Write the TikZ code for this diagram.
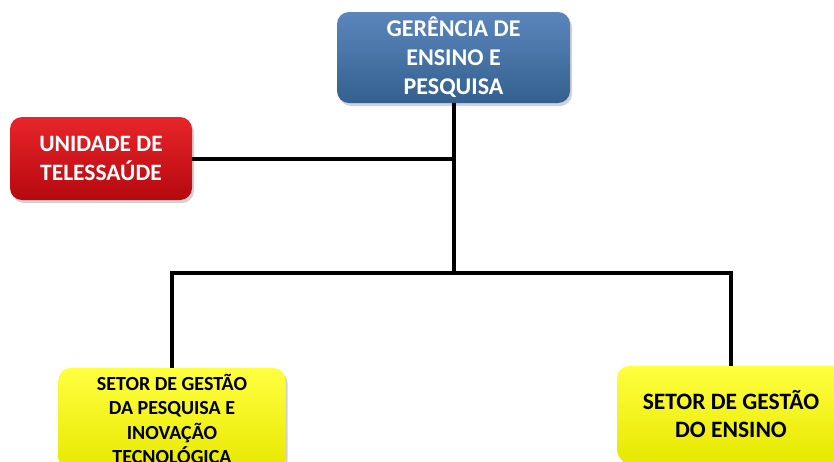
\documentclass[tikz,border=0pt]{standalone}
\usepackage{fontspec}
\setmainfont{Carlito}
\usetikzlibrary{shadows}
\definecolor{bluetop}{HTML}{5A86BC}
\definecolor{bluebot}{HTML}{34608F}
\definecolor{redtop}{HTML}{E8262B}
\definecolor{redbot}{HTML}{B5080E}
\definecolor{yeltop}{HTML}{FFFF40}
\definecolor{yelbot}{HTML}{E8E800}
\tikzset{
  orgbox/.style={rounded corners=12pt, inner sep=0pt, align=center, font=\bfseries,
    drop shadow={opacity=0.35, shadow xshift=2pt, shadow yshift=-3pt}},
  bluebox/.style={orgbox, top color=bluetop, bottom color=bluebot, text=white,
    minimum width=233pt, minimum height=91pt},
  redbox/.style={orgbox, top color=redtop, bottom color=redbot, text=white,
    minimum width=182pt, minimum height=83pt},
  yelbox/.style={orgbox, top color=yeltop, bottom color=yelbot, text=black},
  link/.style={line width=4pt, black}
}
\begin{document}
\begin{tikzpicture}[x=1pt,y=-1pt]
\clip (0,0) rectangle (834,461);
\fill[white] (0,0) rectangle (834,461);
\node[bluebox, font=\bfseries\fontsize{24}{29}\selectfont] (ger) at (453.5,57.5) {GERÊNCIA DE\\ENSINO E\\PESQUISA};
\node[redbox, font=\bfseries\fontsize{23.5}{29}\selectfont] (tel) at (101,158.5) {UNIDADE DE\\TELESSAÚDE};
\node[yelbox, minimum width=227pt, minimum height=102pt, font=\bfseries\fontsize{20}{24.5}\selectfont] (pes) at (172,419) {SETOR DE GESTÃO\\DA PESQUISA E\\INOVAÇÃO\\TECNOLÓGICA};
\node[yelbox, minimum width=228pt, minimum height=96pt, font=\bfseries\fontsize{23.5}{28}\selectfont] (ens) at (731,414) {SETOR DE GESTÃO\\DO ENSINO};
\coordinate (bus) at (452,273);
\draw[link] (ger.south) -- (ger.south |- bus);
\draw[link] (tel.east) -- (tel.east -| ger.south);
\draw[link] (pes.north) |- (bus) -| (ens.north);
\end{tikzpicture}
\end{document}
